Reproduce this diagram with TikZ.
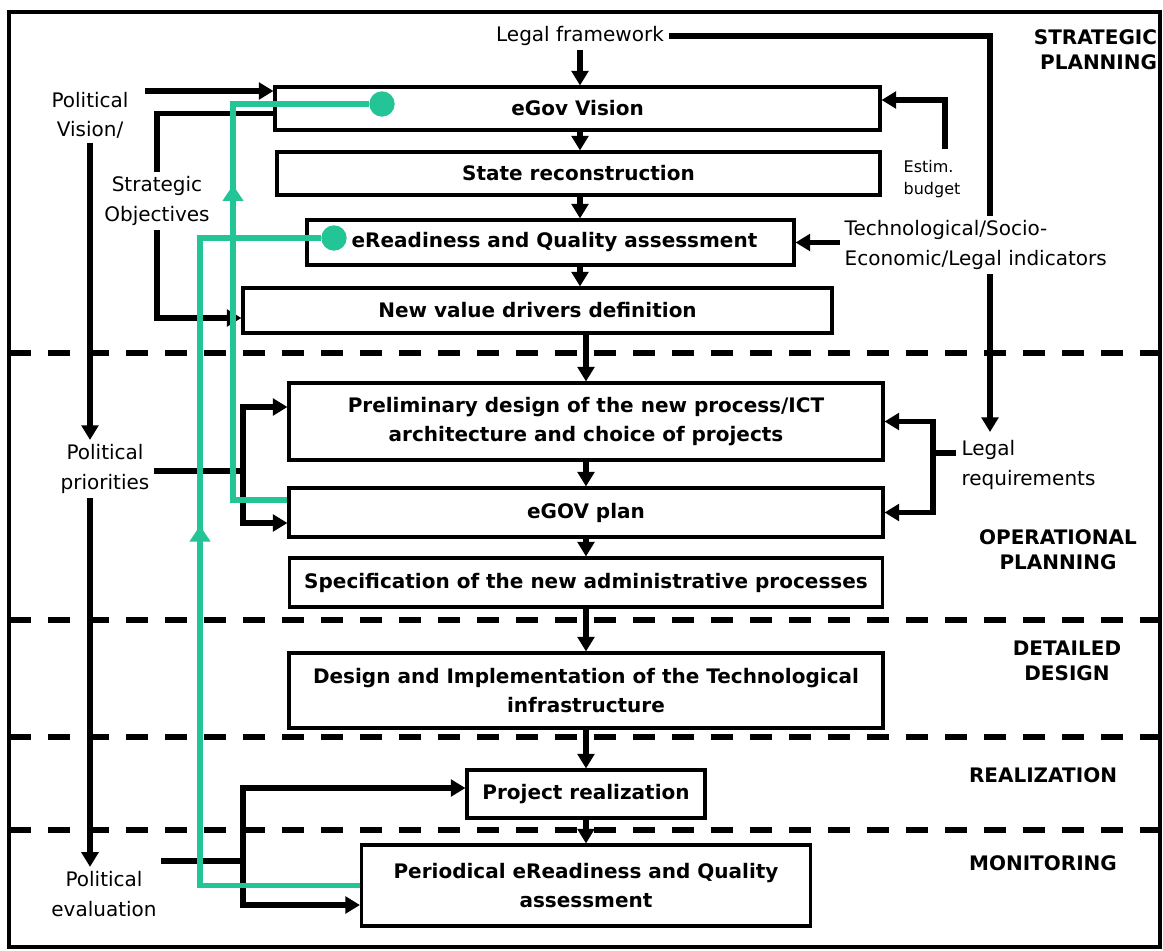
\documentclass[tikz,border=0pt]{standalone}
\usepackage{fontspec}
\setmainfont{DejaVu Sans}
\usetikzlibrary{arrows.meta,calc,decorations.markings}
\definecolor{mint}{RGB}{35,196,150}

\begin{document}
\begin{tikzpicture}[x=0.75pt,y=-0.75pt,
  box/.style={draw,line width=2.3pt,fill=white,align=center,inner sep=0pt,
    font=\fontsize{15}{22}\selectfont\bfseries},
  lbl/.style={align=center,font=\fontsize{15}{22}\selectfont},
  phase/.style={align=center,inner sep=2pt,font=\fontsize{15}{19}\selectfont\bfseries},
  link/.style={line width=3.8pt},
  arr/.style={link,-{Triangle[length=11pt,width=12.5pt]}},
  cut/.style={line width=4pt,dash pattern=on 16.5pt off 12.75pt},
  feed/.style={mint,line width=4.2pt},
  midtip/.style={postaction={decorate,decoration={markings,
    mark=at position #1 with {\arrow{Triangle[length=12pt,width=15pt]}}}}},
  dot/.style={circle,fill=mint,inner sep=0pt,minimum size=19pt}]
\useasboundingbox (0,0) rectangle (1163,950);
\draw[line width=2.5pt] (9,12) rectangle (1160,947);
\foreach \y in {353,620,737,830} {\draw[cut] (9,\y) -- (1163,\y);}

% phases
\node[phase,align=right,anchor=east] (strat) at (1160,50) {STRATEGIC\\PLANNING};
\node[phase] (oper) at (1058,550) {OPERATIONAL\\PLANNING};
\node[phase] (detail) at (1067,661) {DETAILED\\DESIGN};
\node[phase] (realz) at (1043,775) {REALIZATION};
\node[phase] (monit) at (1043,863) {MONITORING};

% main column
\node[box,minimum width=453.75pt,minimum height=32.25pt] (vision) at (577.5,108.5) {eGov Vision};
\node[box,minimum width=452.25pt,minimum height=32.25pt] (state) at (578.5,173.5) {State reconstruction};
\node[box,minimum width=365.25pt,minimum height=33.75pt] (eready) at (550.5,242.5) {\hspace{6pt}eReadiness and Quality assessment};
\node[box,minimum width=441.75pt,minimum height=33.75pt] (drivers) at (537.5,310.5) {New value drivers definition};
\node[box,minimum width=445.5pt,minimum height=57.75pt] (prelim) at (586,421.5) {Preliminary design of the new process/ICT\\architecture and choice of projects};
\node[box,minimum width=445.5pt,minimum height=36.75pt] (plan) at (586,512.5) {eGOV plan};
\node[box,minimum width=444.75pt,minimum height=36.75pt] (spec) at (586,582.5) {Specification of the new administrative processes};
\node[box,minimum width=445.5pt,minimum height=56.25pt] (design) at (586,690.5) {Design and Implementation of the Technological\\infrastructure};
\node[box,minimum width=178.5pt,minimum height=36pt] (project) at (586,794) {Project realization};
\node[box,minimum width=336.75pt,minimum height=60.75pt] (periodic) at (586,885.5) {Periodical eReadiness and Quality\\assessment};

% side texts
\node[lbl] (lf) at (580,36) {Legal framework};
\node[lbl] (pvis) at (90,115) {Political\\Vision/};
\node[lbl] (sobj) at (157,201) {Strategic\\Objectives};
\node[lbl] (ppri) at (105,469) {Political\\priorities};
\node[lbl] (peval) at (104,894) {Political\\evaluation};
\node[lbl,align=left,font=\fontsize{12}{17}\selectfont] (est) at (932,179) {Estim.\\budget};
\node[lbl,align=left,anchor=west,inner sep=4pt] (lreq) at (956,465) {Legal\\requirements};

\coordinate (pvout) at (145,91);
\coordinate (ppfork) at (243,471);
\coordinate (pefork) at (243,861);
\coordinate (lrfork) at (933,453);
\coordinate (lawx) at (990,432);
\coordinate (upA) at (233,104);
\coordinate (upB) at (200,238);
\node[dot] (dotA) at (382,104) {};
\node[dot] (dotB) at (334,238) {};

% flow down the column
\draw[arr] (lf.south) -- (lf.south |- vision.north);
\draw[arr] (vision.south -| lf) -- (state.north -| lf);
\draw[arr] (state.south -| lf) -- (eready.north -| lf);
\draw[arr] (eready.south -| lf) -- (drivers.north -| lf);
\draw[arr] (drivers.south -| prelim.north) -- (prelim.north);
\draw[arr] (prelim) -- (plan);
\draw[arr] (plan) -- (spec);
\draw[arr] (spec) -- (design);
\draw[arr] (design) -- (project);
\draw[arr] (project) -- (periodic);

% legal and budget inputs
\draw[arr] (lf.east) -| (lawx);
\node[lbl,align=left,anchor=west,fill=white] (tech) at (840,245) {Technological/Socio-\\Economic/Legal indicators};
\draw[arr] (tech.west |- eready.east) -- (eready.east);
\draw[arr] ($(est.north)+(13,-6)$) |- ($(vision.east)+(0,-8.5)$);
\draw[link] (lreq.west |- lrfork) -- (lrfork);
\draw[arr] (lrfork) |- (prelim.east);
\draw[arr] (lrfork) |- (plan.east);

% political side
\draw[arr] (pvout) -- (pvout -| vision.west);
\draw[link] ($(vision.west)+(0,5)$) -| (sobj.north);
\draw[arr] (sobj.south) |- ($(drivers.west)+(0,7.5)$);
\draw[arr] (pvis.south) -- (pvis.south |- ppri.north);
\draw[arr] (pvis.south |- ppri.south) -- (pvis.south |- peval.north);
\draw[link] (ppri.east |- ppfork) -- (ppfork);
\draw[arr] (ppfork) |- ($(prelim.west)+(0,-14.5)$);
\draw[arr] (ppfork) |- ($(plan.west)+(0,10.5)$);
\draw[link] (peval.north east |- pefork) -- (pefork);
\draw[arr] (pefork) |- ($(project.west)+(0,-6)$);
\draw[arr] (pefork) |- ($(periodic.west)+(0,19.5)$);

% feedback
\draw[feed,midtip=0.63] ($(plan.west)+(0,-12.5)$) -| (upA) -- (dotA);
\draw[feed,midtip=0.56] (periodic.west) -| (upB) -- (dotB);
\end{tikzpicture}
\end{document}
